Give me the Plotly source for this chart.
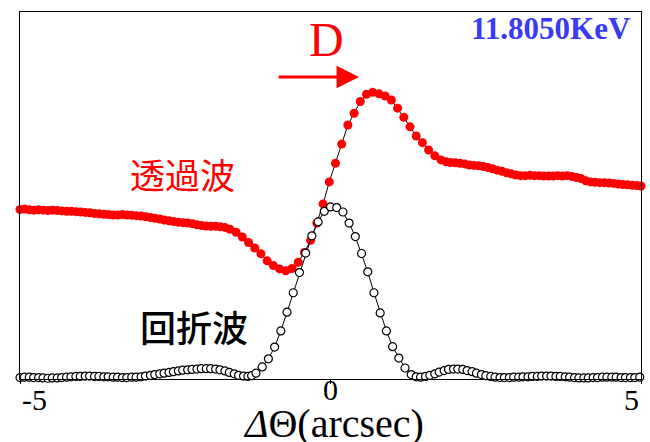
import plotly.graph_objects as go

# ---------------- data ----------------
# diffracted wave (回折波): x in arcsec, normalized intensity
diff_x = [-5.00,-4.93,-4.85,-4.78,-4.70,-4.63,-4.55,-4.48,-4.40,-4.33,-4.25,-4.18,-4.10,-4.03,-3.95,-3.88,
          -3.80,-3.73,-3.65,-3.58,-3.50,-3.43,-3.35,-3.28,-3.20,-3.13,-3.05,-2.98,-2.90,-2.83,-2.75,-2.68,
          -2.60,-2.53,-2.45,-2.38,-2.30,-2.23,-2.15,-2.08,-2.00,-1.93,-1.85,-1.78,-1.70,-1.63,-1.55,-1.48,
          -1.40,-1.33,-1.27,
          -1.20,-1.10,-1.00,-0.90,-0.80,-0.70,-0.60,-0.50,-0.40,-0.30,-0.20,-0.10,0.00,0.10,0.20,0.30,
          0.40,0.50,0.60,0.70,0.80,0.90,1.00,1.10,1.20,1.30,
          1.38,1.45,1.53,1.60,1.68,1.75,1.83,1.90,1.98,2.05,2.13,2.20,2.28,2.35,2.43,2.50,2.58,2.65,
          2.73,2.80,2.88,2.95,3.03,3.10,3.18,3.25,3.33,3.40,3.48,3.55,3.63,3.70,3.78,3.85,3.93,4.00,
          4.08,4.15,4.23,4.30,4.38,4.45,4.53,4.60,4.68,4.75,4.83,4.90,4.98]
diff_y = [0.004,0.005,0.005,0.004,0.004,0.003,0.002,0.003,0.003,0.004,0.005,0.006,0.007,0.007,0.008,0.008,
          0.007,0.007,0.006,0.006,0.005,0.005,0.004,0.004,0.005,0.005,0.006,0.008,0.010,0.012,0.014,0.016,
          0.018,0.020,0.022,0.024,0.025,0.026,0.027,0.028,0.028,0.028,0.027,0.025,0.022,0.018,0.014,0.010,
          0.008,0.007,0.009,
          0.016,0.033,0.055,0.087,0.131,0.182,0.235,0.290,0.343,0.390,0.428,0.457,0.469,0.467,0.455,0.425,
          0.388,0.342,0.292,0.235,0.180,0.131,0.088,0.057,0.030,0.012,
          0.006,0.005,0.007,0.010,0.014,0.019,0.023,0.026,0.027,0.027,0.026,0.023,0.020,0.016,0.012,0.009,0.007,0.005,
          0.004,0.004,0.004,0.005,0.005,0.006,0.006,0.007,0.007,0.008,0.008,0.008,0.007,0.007,0.006,0.005,0.004,0.003,
          0.003,0.003,0.004,0.004,0.005,0.005,0.005,0.005,0.004,0.004,0.004,0.004,0.005]

# transmitted wave (透過波)
trans_x = [-5.000,-4.925,-4.850,-4.775,-4.700,-4.625,-4.550,-4.475,-4.400,-4.325,-4.250,-4.175,-4.100,-4.025,
           -3.950,-3.875,-3.800,-3.725,-3.650,-3.575,-3.500,-3.425,-3.350,-3.275,-3.200,-3.125,-3.050,-2.975,
           -2.900,-2.825,-2.750,-2.675,-2.600,-2.525,-2.450,-2.375,-2.300,-2.225,-2.150,-2.075,-2.000,-1.925,
           -1.850,-1.775,-1.700,
           -1.62,-1.52,-1.42,-1.32,-1.22,-1.12,-1.02,-0.92,-0.82,-0.72,-0.62,-0.52,-0.42,-0.32,-0.22,-0.12,
           -0.02,0.08,0.18,0.28,0.38,0.48,0.58,0.68,0.78,0.88,0.98,1.08,1.18,1.28,1.38,1.48,1.58,1.68,1.78,1.86,
           1.935,2.010,2.085,2.160,2.235,2.310,2.385,2.460,2.535,2.610,2.685,2.760,2.835,2.910,2.985,3.060,
           3.135,3.210,3.285,3.360,3.435,3.510,3.585,3.660,3.735,3.810,3.885,3.960,4.035,4.110,4.185,4.260,
           4.335,4.410,4.485,4.560,4.635,4.710,4.785,4.860,4.935,5.000]
trans_y = [0.462,0.463,0.461,0.460,0.461,0.460,0.459,0.460,0.459,0.458,0.457,0.457,0.456,0.455,
           0.454,0.453,0.451,0.450,0.449,0.448,0.447,0.447,0.448,0.447,0.446,0.445,0.444,0.442,
           0.440,0.438,0.436,0.433,0.431,0.429,0.427,0.426,0.425,0.423,0.420,0.418,0.417,0.416,
           0.416,0.415,0.413,
           0.408,0.400,0.387,0.372,0.357,0.341,0.322,0.309,0.300,0.295,0.301,0.318,0.345,0.378,0.425,0.477,
           0.537,0.588,0.640,0.692,0.724,0.756,0.776,0.781,0.777,0.771,0.760,0.738,0.713,0.687,0.662,0.644,
           0.624,0.608,0.597,0.592,
           0.590,0.589,0.588,0.586,0.583,0.582,0.581,0.579,0.576,0.573,0.569,0.566,0.562,0.559,0.556,0.554,
           0.554,0.555,0.554,0.554,0.553,0.553,0.553,0.554,0.553,0.554,0.552,0.549,0.546,0.540,0.537,0.536,
           0.535,0.535,0.534,0.533,0.531,0.530,0.529,0.528,0.527,0.526]

tick_vals = [-5, 0, 5]
tick_text = ["-5", "0", "5"]
x_title = "<i>Δ</i>Θ(arcsec)"
energy_label = "11.8050KeV"
label_trans = "透過波"
label_diff = "回折波"
arrow_label = "D"

SERIF = "Liberation Serif"
CJK = "Noto Sans CJK JP"

fig = go.Figure()
fig.add_trace(go.Scatter(
    x=trans_x, y=trans_y, mode="lines+markers",
    line=dict(color="black", width=1),
    marker=dict(symbol="circle", size=9, color="#ff0000", line=dict(width=0)),
    cliponaxis=False, showlegend=False))
fig.add_trace(go.Scatter(
    x=diff_x, y=diff_y, mode="lines+markers",
    line=dict(color="black", width=1),
    marker=dict(symbol="circle", size=8, color="white", line=dict(color="black", width=1.2)),
    cliponaxis=False, showlegend=False))

fig.update_layout(
    width=650, height=442,
    margin=dict(l=20, r=9, t=12, b=63),
    paper_bgcolor="white", plot_bgcolor="white",
    xaxis=dict(range=[-5, 5], showgrid=False, zeroline=False, showline=True, mirror=True,
               linecolor="black", linewidth=1.3, ticks="outside", ticklen=4, tickcolor="black",
               tickvals=tick_vals, showticklabels=False),
    yaxis=dict(range=[0, 1], showgrid=False, zeroline=False, showline=True, mirror=True,
               linecolor="black", linewidth=1.3, showticklabels=False, ticks=""),
)

annos = []
# tick labels
annos.append(dict(x=tick_vals[0], y=-0.057, xref="x", yref="paper", text=tick_text[0],
                  xanchor="left", yanchor="middle", showarrow=False,
                  font=dict(family=SERIF, size=30, color="black")))
annos.append(dict(x=tick_vals[1], y=-0.028, xref="x", yref="paper", text=tick_text[1],
                  xanchor="center", yanchor="middle", showarrow=False,
                  font=dict(family=SERIF, size=30, color="black")))
annos.append(dict(x=tick_vals[2], y=-0.057, xref="x", yref="paper", text=tick_text[2],
                  xanchor="right", yanchor="middle", showarrow=False,
                  font=dict(family=SERIF, size=30, color="black")))
# axis title
annos.append(dict(x=0.505, y=-0.122, xref="paper", yref="paper", text=x_title,
                  xanchor="center", yanchor="middle", showarrow=False,
                  font=dict(family=SERIF, size=40, color="black")))
# energy
annos.append(dict(x=0.987, y=0.956, xref="paper", yref="paper", text="<b>" + energy_label + "</b>",
                  xanchor="right", yanchor="middle", showarrow=False,
                  font=dict(family=SERIF, size=31, color="#3a3af5")))
# D label
annos.append(dict(x=-0.06, y=0.926, xref="x", yref="paper", text=arrow_label,
                  xanchor="center", yanchor="middle", showarrow=False,
                  font=dict(family=SERIF, size=48, color="#ff0000")))
# arrow
annos.append(dict(x=0.46, y=0.823, ax=-0.86, ay=0.823, xref="x", yref="y", axref="x", ayref="y",
                  text="", showarrow=True, arrowhead=2, arrowsize=1.5, arrowwidth=3,
                  arrowcolor="#ff0000"))
# series labels
annos.append(dict(x=0.261, y=0.561, xref="paper", yref="paper", text=label_trans,
                  xanchor="center", yanchor="middle", showarrow=False,
                  font=dict(family=CJK, size=35, color="#ff0000")))
annos.append(dict(x=0.280, y=0.144, xref="paper", yref="paper", text=label_diff,
                  xanchor="center", yanchor="middle", showarrow=False,
                  font=dict(family=CJK, size=36, color="black", weight=500)))
fig.update_layout(annotations=annos)

fig.write_html("out.html")
